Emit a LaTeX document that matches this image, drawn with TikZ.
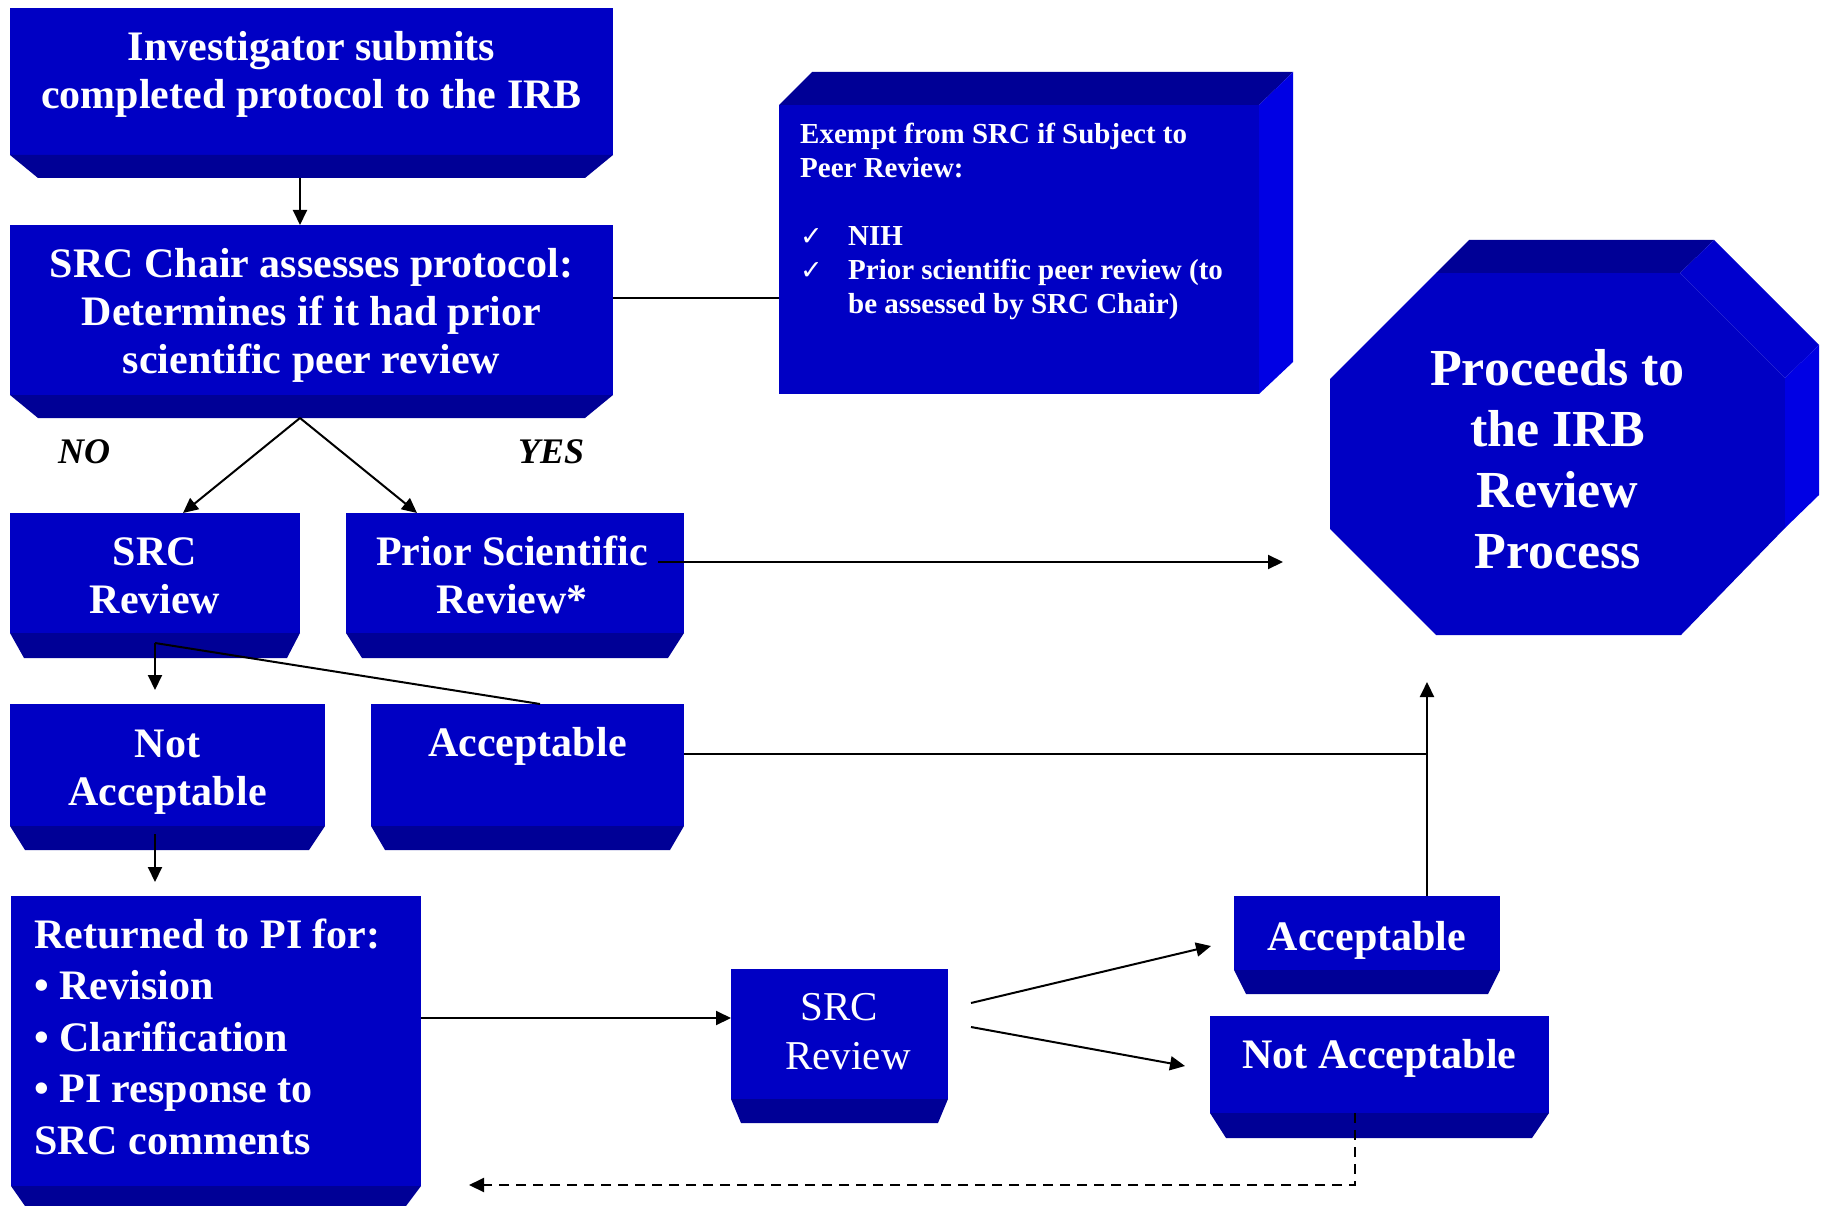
\documentclass[tikz,border=0pt]{standalone}
\usepackage{fontspec}
\setmainfont{Liberation Serif}
\newfontfamily\checkfont{DejaVu Sans}
\usetikzlibrary{arrows.meta,calc}
\definecolor{bfront}{RGB}{0,0,196}
\definecolor{bdark}{RGB}{0,0,150}
\definecolor{bmid}{RGB}{0,0,206}
\definecolor{blight}{RGB}{0,0,228}
\tikzset{
  face/.style={fill=bfront, draw=none, inner sep=0pt, outer sep=0pt, rectangle, anchor=north west},
  txt/.style={text=white, font={\bfseries\fontsize{42}{48}\selectfont}, align=center, inner sep=0pt, anchor=base},
  conn/.style={draw=black, line width=2pt},
  arr/.style={conn, -{Triangle[length=15pt,width=14pt]}},
  dasharr/.style={arr, dash pattern=on 10pt off 7pt},
  yesno/.style={font={\bfseries\itshape\fontsize{36}{40}\selectfont}, inner sep=0pt, anchor=base west}
}
\newcommand{\bevelbox}[4]{%
  \fill[bdark] (#1.south west) -- (#1.south east) -- ++(-#3,#4) -- ($(#1.south west)+(#2,#4)$) -- cycle;}
\newcommand{\chk}{\makebox[48pt][l]{\checkfont\mdseries\fontsize{27}{34}\selectfont ✓}}
\begin{document}
\begin{tikzpicture}[x=1pt,y=-1pt]
\fill[white] (0,0) rectangle (1825,1206);
\useasboundingbox (0,0) rectangle (1825,1206);

% ---- boxes (front faces)
\node[face, minimum width=603pt, minimum height=147pt] (submit) at (10,8) {};
\node[face, minimum width=603pt, minimum height=170pt] (chair) at (10,225) {};
\node[face, minimum width=480pt, minimum height=289pt] (exempt) at (779,105) {};
\node[face, minimum width=290pt, minimum height=120pt] (srcrev) at (10,513) {};
\node[face, minimum width=338pt, minimum height=120pt] (prior) at (346,513) {};
\node[face, minimum width=315pt, minimum height=122pt] (notacc) at (10,704) {};
\node[face, minimum width=313pt, minimum height=122pt] (acc) at (371,704) {};
\node[face, minimum width=410pt, minimum height=290pt] (ret) at (11,896) {};
\node[face, minimum width=217pt, minimum height=130pt] (srcrev2) at (731,969) {};
\node[face, minimum width=266pt, minimum height=74pt] (acc2) at (1234,896) {};
\node[face, minimum width=339pt, minimum height=97pt] (notacc2) at (1210,1016) {};

% ---- bevels
\bevelbox{submit}{28}{28}{23}
\bevelbox{chair}{28}{28}{23}
\bevelbox{srcrev}{14}{13}{25}
\bevelbox{prior}{16}{16}{25}
\bevelbox{notacc}{15}{16}{24}
\bevelbox{acc}{14}{14}{24}
\bevelbox{ret}{14}{15}{20}
\bevelbox{srcrev2}{10}{10}{24}
\bevelbox{acc2}{12}{12}{24}
\bevelbox{notacc2}{16}{17}{25}

% ---- exempt box 3D faces
\fill[bdark] (exempt.north west) -- ++(33,-33) -- ($(exempt.north east)+(34,-33)$) -- (exempt.north east) -- cycle;
\fill[blight] (exempt.north east) -- ++(34,-33) -- ($(exempt.south east)+(34,-32)$) -- (exempt.south east) -- cycle;

% ---- octagon
\fill[bfront] (1330,379) -- (1436,273) -- (1680,273) -- (1785,378) -- (1785,528) -- (1681,635) -- (1436,635) -- (1330,529) -- cycle;
\fill[bdark] (1436,273) -- (1469,240) -- (1714,240) -- (1680,273) -- cycle;
\fill[bmid] (1680,273) -- (1714,240) -- (1819,345) -- (1785,378) -- cycle;
\fill[blight] (1785,378) -- (1819,345) -- (1819,495) -- (1785,528) -- cycle;
\node[inner sep=0pt, minimum width=455pt, minimum height=362pt, anchor=north west] (irb) at (1330,273) {};

% ---- texts (base anchor = baseline of last line)
\node[txt] (submit-t) at (311.5,109) {Investigator submits\\completed protocol to the IRB};
\node[txt] (chair-t) at (311.5,373) {SRC Chair assesses protocol:\\Determines if it had prior\\scientific peer review};
\node[txt, anchor=base west, align=left, font={\bfseries\fontsize{29}{34}\selectfont}] (exempt-t) at (800,313)
  {Exempt from SRC if Subject to\\Peer Review:\\\mbox{}\\
   \chk NIH\\
   \chk Prior scientific peer review (to\\
   \hspace*{48pt}be assessed by SRC Chair)};
\node[txt] (srcrev-t) at (155,613) {SRC\\Review};
\node[txt] (prior-t) at (512,613) {Prior Scientific\\Review*};
\node[txt] (notacc-t) at (167.5,805) {Not\\Acceptable};
\node[txt] (acc-t) at (527.5,756) {Acceptable};
\node[txt, anchor=base west, align=left, font={\bfseries\fontsize{42}{51.5}\selectfont}] (ret-t) at (34,1154)
  {Returned to PI for:\\• Revision\\• Clarification\\• PI response to\\SRC comments};
\node[txt, font={\mdseries\fontsize{41}{49}\selectfont}] (srcrev2-t) at (839,1069) {SRC\\\hspace*{18pt}Review};
\node[txt] (acc2-t) at (1367,950) {Acceptable};
\node[txt] (notacc2-t) at (1379.5,1068) {Not Acceptable};
\node[txt, font={\bfseries\fontsize{52}{61}\selectfont}] (irb-t) at (1557.5,568) {Proceeds to\\the IRB\\Review\\Process};
\node[yesno] (no) at (58,463) {NO};
\node[yesno] (yes) at (518,463) {YES};

% ---- free connector ends
\coordinate (tipA) at (1283,562);
\coordinate (join) at (1427,754);
\coordinate (tipB) at (1427,682);
\coordinate (dashC) at (1355,1185);
\coordinate (tipD) at (469,1185);

% ---- connectors
\draw[arr] ($(submit.south)+(-11.5,23)$) -- ($(chair.north)+(-11.5,0)$);
\draw[arr] ($(chair.south)+(-11.5,23)$) -- ($(srcrev.north)+(28,0)$);
\draw[arr] ($(chair.south)+(-11.5,23)$) -- ($(prior.north)+(-98,0)$);
\draw[conn] ($(chair.east)+(0,-12)$) coordinate (ce) -- (ce -| exempt.west);
\draw[arr] ($(prior.east)+(-26,-11)$) -- (tipA);
\coordinate (split) at ($(srcrev.south)+(0,10)$);
\draw[arr] (split) -- ($(notacc.north)+(-12.5,-14)$);
\draw[conn] (split) -- ($(acc.north)+(12.5,0)$);
\draw[conn] ($(acc.east)+(0,-11)$) -- (join);
\draw[arr] ($(acc2.north)+(60,0)$) -- (tipB);
\draw[arr] ($(notacc.south)+(-12.5,8)$) -- ($(ret.north)+(-61,-14)$);
\draw[arr] ($(ret.east)+(0,-23)$) coordinate (re) -- (re -| srcrev2.west);
\draw[arr] ($(srcrev2.east)+(23,-31)$) -- ($(acc2.west)+(-23,13)$);
\draw[arr] ($(srcrev2.east)+(23,-7)$) -- ($(notacc2.west)+(-25,1.5)$);
\draw[dasharr] ($(notacc2.south)+(-24.5,0)$) -- (dashC) -- (tipD);
\end{tikzpicture}
\end{document}
